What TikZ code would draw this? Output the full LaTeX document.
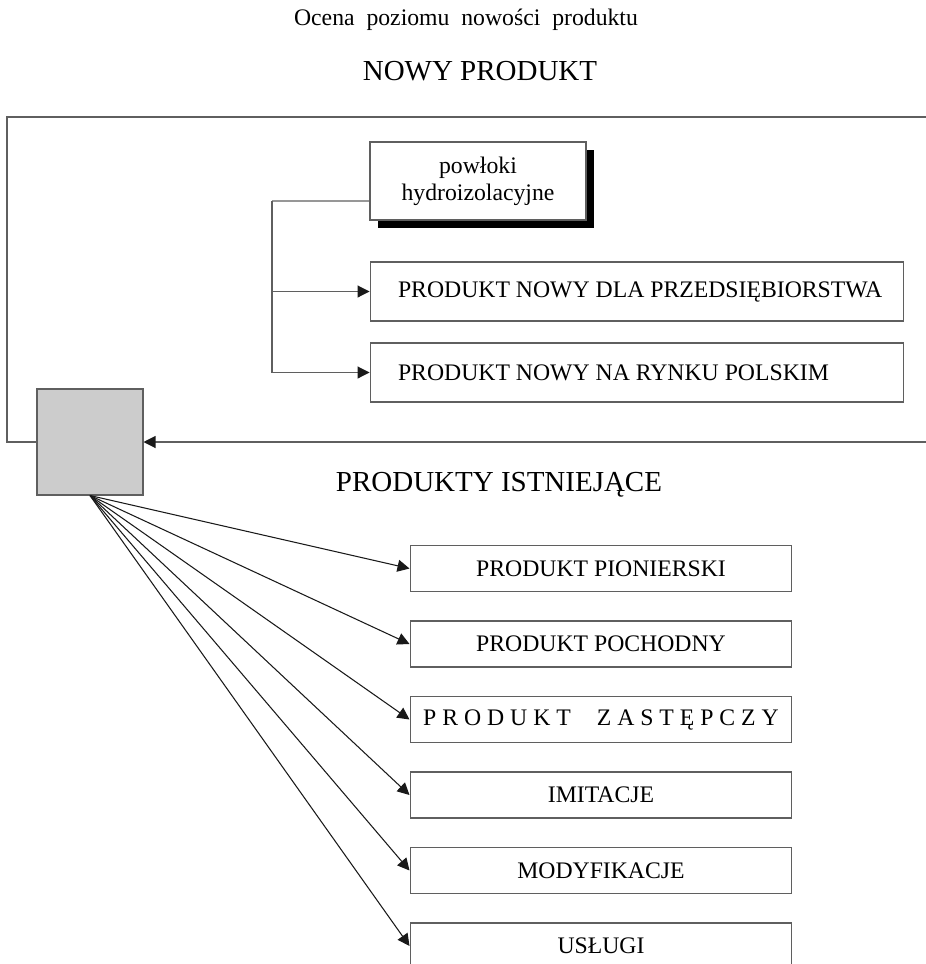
\documentclass[tikz,border=0pt]{standalone}
\usepackage{fontspec}
\setmainfont{Liberation Serif}
\usetikzlibrary{arrows.meta,positioning,shadows}
\definecolor{rim}{RGB}{95,95,95}
\definecolor{ink}{RGB}{25,25,25}
\definecolor{core}{RGB}{204,204,204}
\tikzset{
  >={Triangle[length=2.4mm,width=2.4mm,color=ink]},
  x=0.02cm,y=-0.02cm,
  box/.style={draw=rim,fill=white,line width=0.6pt,inner sep=0pt,
    minimum width=7.64cm,minimum height=0.92cm,align=center,
    font=\fontsize{13.5pt}{15.5pt}\selectfont},
  wide box/.style={box,minimum height=1.18cm,inner xsep=0.56cm},
  shadow box/.style={box,minimum width=4.32cm,minimum height=1.56cm,
    drop shadow={shadow xshift=0.16cm,shadow yshift=-0.16cm,opacity=1,fill=black}},
  link/.style={draw=rim,line width=0.6pt},
  flow/.style={->,draw=#1,line width=0.6pt},
  flow/.default=rim,
  tag/.style={anchor=base,font=\fontsize{#1}{#1}\selectfont},
  tag/.default=13.5pt,
}
\newcommand{\lefttext}[1]{\makebox[9.56cm][l]{#1}}

\begin{document}
\begin{tikzpicture}
  \clip (0,0) rectangle (926,964);
  % headings
  \node[tag] (title) at (466,25) {Ocena\ \ poziomu\ \ nowości\ \ produktu};
  \node[tag=16.5pt] (nowy) at (480,80) {NOWY PRODUKT};
  \node[tag=16.5pt] (ist) at (499,491) {PRODUKTY ISTNIEJĄCE};
  % new products
  \node[shadow box] (pw) at (478,181) {powłoki\\hydroizolacyjne};
  \node[wide box] (firm) at (637,291.5) {\lefttext{PRODUKT NOWY DLA PRZEDSIĘBIORSTWA}};
  \node[wide box] (pl) at (637,372.5) {\lefttext{PRODUKT NOWY NA RYNKU POLSKIM}};
  \coordinate (br) at (272,201);
  \draw[link] ([yshift=-0.4cm]pw.west) -- (br);
  \draw[flow] (br) |- (firm.west);
  \draw[flow] (br) |- (pl.west);
  % grey square and frame
  \node[draw=rim,fill=core,line width=0.6pt,minimum size=2.12cm] (core) at (90,442) {};
  \draw[link] (core.west) -- (7,442) -- (7,117) -- (930,117);
  \coordinate (back) at (930,442);
  \draw[flow] (back) -- (core.east);
  % existing products
  \foreach \t [count=\i] in {PRODUKT PIONIERSKI,PRODUKT POCHODNY,
      {P R O D U K T\hspace{1.1em}Z A S T Ę P C Z Y},IMITACJE,MODYFIKACJE,USŁUGI}{
    \node[box] (e\i) at (601,{493+75.5*\i}) {\t};
    \draw[flow=ink] (core.south) -- (e\i.west);
  }
\end{tikzpicture}
\end{document}
